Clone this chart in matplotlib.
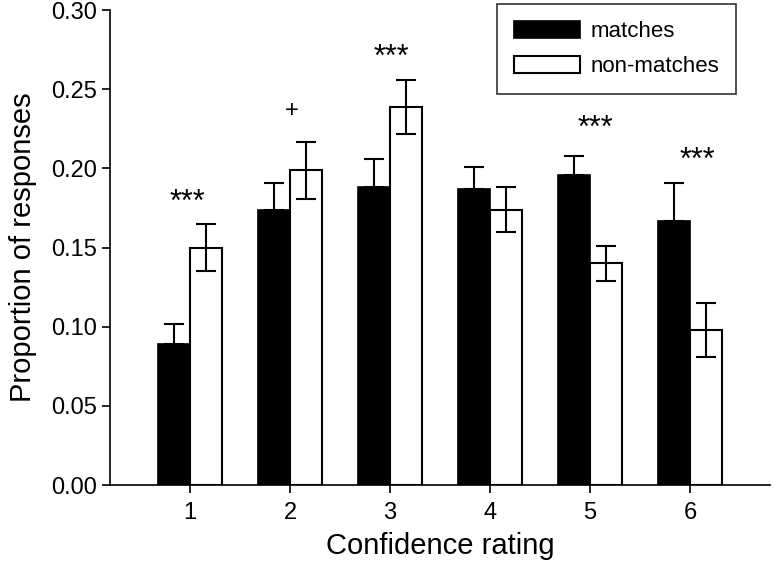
import matplotlib
matplotlib.use("Agg")
import matplotlib.pyplot as plt
import numpy as np

plt.rcParams['font.family'] = ['Liberation Sans', 'DejaVu Sans']

# data
ratings = [1, 2, 3, 4, 5, 6]
matches = [0.089, 0.174, 0.188, 0.187, 0.196, 0.167]
matches_err = [0.013, 0.017, 0.018, 0.014, 0.012, 0.024]
nonmatches = [0.150, 0.199, 0.239, 0.174, 0.140, 0.098]
nonmatches_err = [0.015, 0.018, 0.017, 0.014, 0.011, 0.017]
sig_labels = ['***', '+', '***', '', '***', '***']
sig_x = [0.97, 2.02, 3.01, 4.0, 5.05, 6.07]
sig_y = [0.178, 0.236, 0.270, 0, 0.225, 0.205]

x = np.array(ratings)
w = 0.32

fig = plt.figure(figsize=(7.74, 5.63), dpi=100)
ax = fig.add_axes([0.142, 0.1385, 0.853, 0.8435])

ax.bar(x - w/2, matches, w, color='black', edgecolor='black', linewidth=1.2,
       label='matches', zorder=2)
ax.bar(x + w/2, nonmatches, w, color='white', edgecolor='black', linewidth=1.5,
       label='non-matches', zorder=2)

# matches: upper error only, non-matches: both ways
ax.errorbar(x - w/2, matches, yerr=[np.zeros(6), matches_err], fmt='none',
            ecolor='black', elinewidth=1.5, capsize=7, capthick=1.5, zorder=3)
ax.errorbar(x + w/2, nonmatches, yerr=nonmatches_err, fmt='none',
            ecolor='black', elinewidth=1.5, capsize=7, capthick=1.5, zorder=3)

for xi, lab, yy in zip(sig_x, sig_labels, sig_y):
    if lab == '***':
        ax.text(xi, yy, lab, ha='center', va='center', fontsize=22)
    elif lab:
        ax.text(xi, yy, lab, ha='center', va='center', fontsize=17)

ax.set_xlim(0.2, 6.8)
ax.set_ylim(0, 0.30)
ax.set_xticks(ratings)
ax.set_yticks(np.arange(0, 0.31, 0.05))
ax.set_yticklabels(['%.2f' % v for v in np.arange(0, 0.31, 0.05)])
ax.tick_params(labelsize=17, width=1.2, length=6, direction='out')
ax.tick_params(axis='x', pad=6)
ax.spines['top'].set_visible(False)
ax.spines['right'].set_visible(False)
ax.spines['left'].set_linewidth(1.2)
ax.spines['bottom'].set_linewidth(1.2)

ax.set_xlabel('Confidence rating', fontsize=21, labelpad=6)
ax.set_ylabel('Proportion of responses', fontsize=21, labelpad=10)

leg = ax.legend(loc='upper right', bbox_to_anchor=(0.948, 1.012), fontsize=16,
                frameon=True, fancybox=False, edgecolor='black',
                handlelength=3.0, handleheight=0.8, borderpad=0.75,
                handletextpad=0.45, labelspacing=0.6, borderaxespad=0)
leg.get_frame().set_linewidth(1.2)

fig.savefig('out.png', dpi=100)
